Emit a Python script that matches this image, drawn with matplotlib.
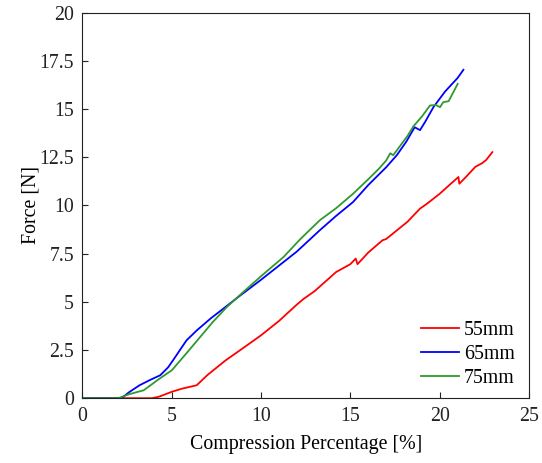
import matplotlib
matplotlib.use('Agg')
import matplotlib.pyplot as plt

# values
x_55 = [0, 3.9, 4.3, 5.0, 5.6, 6.4, 7.0, 8.0, 9.0, 10.0, 11.0, 12.0, 12.4, 13.0, 14.2, 15.0, 15.3, 15.4,
        16.0, 16.8, 17.0, 17.6, 18.2, 18.9, 19.3, 20.0, 20.6, 21.05, 21.1, 21.5, 22.0, 22.4, 22.6, 22.95]
y_55 = [0, 0, 0.08, 0.33, 0.5, 0.67, 1.2, 1.95, 2.6, 3.26, 4.0, 4.85, 5.16, 5.55, 6.54, 6.95, 7.24, 6.95,
        7.55, 8.19, 8.25, 8.7, 9.15, 9.83, 10.09, 10.6, 11.1, 11.47, 11.12, 11.5, 12.0, 12.2, 12.35, 12.76]

x_65 = [0, 2.2, 2.6, 3.2, 3.8, 4.36, 4.8, 5.1, 5.5, 5.83, 6.41, 7.2, 7.9, 8.8, 9.96, 11.26, 12.0, 13.28,
        14.2, 15.15, 16.0, 17.01, 17.6, 18.13, 18.6, 18.9, 19.2, 19.65, 20.3, 21.0, 21.33]
y_65 = [0, 0, 0.3, 0.67, 0.95, 1.19, 1.6, 2.0, 2.55, 3.0, 3.52, 4.15, 4.65, 5.3, 6.11, 7.06, 7.6, 8.7,
        9.45, 10.17, 11.05, 11.98, 12.6, 13.3, 14.05, 13.9, 14.35, 15.09, 15.9, 16.6, 17.03]

x_75 = [0, 2.0, 2.6, 3.43, 4.33, 5.01, 5.8, 6.6, 7.3, 8.09, 9.0, 9.96, 10.6, 11.26, 12.2, 13.28, 14.2,
        15.15, 16.0, 16.6, 17.01, 17.23, 17.4, 17.76, 18.2, 18.53, 19.0, 19.46, 19.8, 20.02, 20.2, 20.5, 21.01]
y_75 = [0, 0, 0.2, 0.41, 1.02, 1.45, 2.3, 3.18, 3.95, 4.73, 5.5, 6.29, 6.8, 7.32, 8.25, 9.22, 9.85,
        10.6, 11.35, 11.9, 12.33, 12.7, 12.6, 13.05, 13.6, 14.1, 14.6, 15.18, 15.2, 15.09, 15.35, 15.4, 16.3]

labels = ['55mm', '65mm', '75mm']
colors = ['#ff0000', '#0000ff', '#2e9a2e']
x_ticks = [0, 5, 10, 15, 20, 25]
y_ticks = [0, 2.5, 5, 7.5, 10, 12.5, 15, 17.5, 20]

plt.rcParams['font.family'] = ['Liberation Serif', 'DejaVu Serif']
plt.rcParams['font.size'] = 14.3

fig = plt.figure(figsize=(5.42, 4.63), dpi=100)
ax = fig.add_axes([0.152, 0.140, 0.824, 0.833])

for xs, ys, lab, c in zip([x_55, x_65, x_75], [y_55, y_65, y_75], labels, colors):
    ax.plot(xs, ys, color=c, lw=1.3, label=lab)

ax.set_xlim(0, 25)
ax.set_ylim(0, 20)
ax.set_xticks(x_ticks)
ax.set_yticks(y_ticks)
ax.set_yticklabels(['0', '2.5', '5', '7.5', '10', '12.5', '15', '17.5', '20'])
ax.tick_params(direction='in', length=4, width=0.8, colors='#222222', pad=6)
for s in ax.spines.values():
    s.set_linewidth(0.8)
    s.set_color('#222222')

ax.set_xlabel('Compression Percentage [%]', labelpad=6.5)
ax.set_ylabel('Force [N]', labelpad=-1)

ax.legend(loc='lower right', frameon=False, handlelength=1.9, handletextpad=0.25,
          labelspacing=0.25, fontsize=14.3, bbox_to_anchor=(1.008, -0.02))

fig.savefig('out.png', dpi=100)
